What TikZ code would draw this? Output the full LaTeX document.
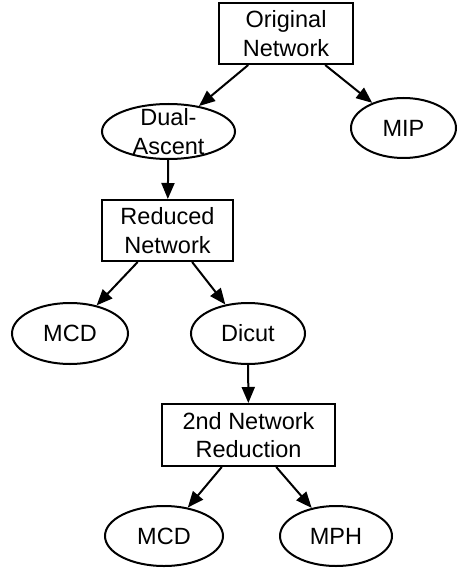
\documentclass[tikz,border=0pt]{standalone}
\usepackage{fontspec}
\setmainfont{Liberation Sans}
\usetikzlibrary{shapes.geometric,arrows.meta}
\tikzset{
  txt/.style={font=\fontsize{23.5}{28.5}\selectfont, align=center, inner sep=0pt},
  boxnode/.style={draw, line width=2pt, rectangle, inner sep=0pt},
  ellnode/.style={draw, line width=2pt, ellipse, inner sep=0pt},
  every label/.style={txt},
  conn/.style={line width=2pt, -{Triangle[length=16pt,width=13pt]}}
}
\begin{document}
\begin{tikzpicture}[x=1pt,y=-1pt]
\useasboundingbox (0,0) rectangle (457,569);
\node[boxnode, minimum width=134pt, minimum height=61pt, label={center:{Original\\Network}}] (on) at (286,33.5) {};
\node[ellnode, minimum width=133pt, minimum height=55pt, label={center:{Dual-\\Ascent}}] (dual) at (168.5,131.5) {};
\node[ellnode, minimum width=105pt, minimum height=60pt, label={center:{MIP}}] (mip) at (403.5,128) {};
\node[boxnode, minimum width=131pt, minimum height=61pt, label={center:{Reduced\\Network}}] (red) at (167.5,230.5) {};
\node[ellnode, minimum width=116pt, minimum height=61pt, label={center:{MCD}}] (mcda) at (70,333.5) {};
\node[ellnode, minimum width=114pt, minimum height=61pt, label={center:{Dicut}}] (dicut) at (248,333.5) {};
\node[boxnode, minimum width=173pt, minimum height=62pt, label={center:{2nd Network\\Reduction}}] (sec) at (248.5,435) {};
\node[ellnode, minimum width=118pt, minimum height=60pt, label={center:{MCD}}] (mcdb) at (164,536) {};
\node[ellnode, minimum width=112pt, minimum height=60pt, label={center:{MPH}}] (mph) at (336,536) {};
\draw[conn] (on) -- (dual);
\draw[conn] (on) -- (mip);
\draw[conn] (dual) -- (red);
\draw[conn] (red) -- (mcda);
\draw[conn] (red) -- (dicut);
\draw[conn] (dicut) -- (sec);
\draw[conn] (sec) -- (mcdb);
\draw[conn] (sec) -- (mph);
\end{tikzpicture}
\end{document}
